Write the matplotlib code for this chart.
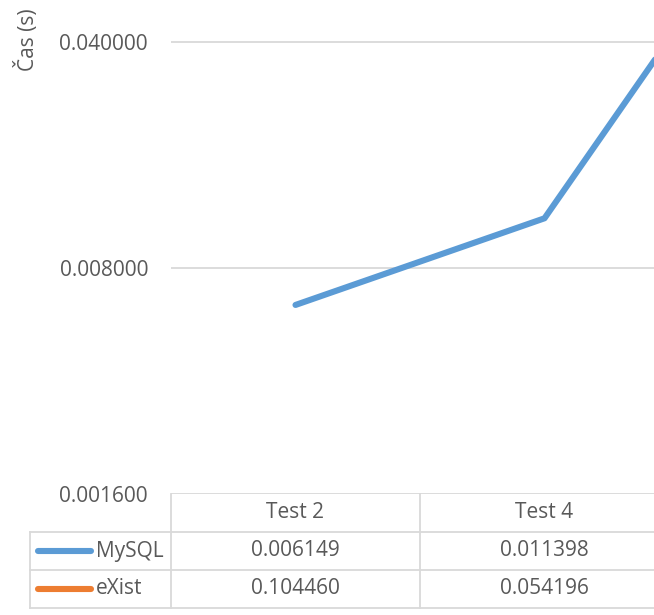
import math
import matplotlib.pyplot as plt
from matplotlib.transforms import blended_transform_factory

# data (the third category is cut off on the right in the reference)
categories = ['Test 2', 'Test 4', 'Test 6']
mysql = [0.006149, 0.011398, 0.1456]
exist = [0.104460, 0.054196, 0.158]
series_names = ['MySQL', 'eXist']
series_colors = ['#5B9BD5', '#ED7D31']
yticks = [0.0016, 0.008, 0.04]

W, H = 654, 615
plt.rcParams['font.family'] = ['Open Sans', 'DejaVu Sans']
txt_color = '#595959'
grid_color = '#D9D9D9'
fs = 15

fig = plt.figure(figsize=(W / 100, H / 100), dpi=100)

# plot area: wider than the picture, like a cropped screenshot
ymin, ymax = 0.0016, 0.0515
px_per_5 = 226  # pixels per factor of 5 on the log axis
left, right, bottom_px = 171, 171 + 249 * len(categories), 494
height_px = math.log(ymax / ymin, 5) * px_per_5
ax = fig.add_axes([left / W, 1 - bottom_px / H, (right - left) / W, height_px / H])

x = range(len(categories))
for vals, name, col in zip([mysql, exist], series_names, series_colors):
    ax.plot(x, vals, color=col, lw=4.4, solid_capstyle='round', label=name)

ax.set_yscale('log', base=5)
ax.set_ylim(ymin, ymax)
ax.set_xlim(-0.5, len(categories) - 0.5)
ax.set_yticks(yticks)
ax.set_yticklabels([f'{v:.6f}' for v in yticks], color=txt_color, fontsize=fs)
ax.yaxis.set_minor_locator(plt.NullLocator())
ax.tick_params(axis='y', length=0, pad=16.5)
ax.set_xticks([])
ax.grid(axis='y', color=grid_color, lw=1.3)
for s in ax.spines.values():
    s.set_visible(False)

fig.text(27 / W, 1 - 40 / H, 'Čas (s)', rotation=90, ha='center', va='center',
         color=txt_color, fontsize=fs)

# data table under the plot
tr = blended_transform_factory(ax.transData, fig.transFigure)
rows_y = [494, 532, 570, 608]
fy = lambda p: 1 - p / H
tab_left = 30
lkw = dict(color=grid_color, lw=1.3, clip_on=False)

# horizontal borders
for yy in rows_y[1:]:
    fig.add_artist(plt.Line2D([tab_left / W, 1.5], [fy(yy)] * 2, transform=fig.transFigure, **lkw))
# vertical borders
fig.add_artist(plt.Line2D([tab_left / W] * 2, [fy(rows_y[1]), fy(rows_y[3])], transform=fig.transFigure, **lkw))
for i in range(len(categories) + 1):
    fig.add_artist(plt.Line2D([i - 0.5] * 2, [fy(rows_y[0]), fy(rows_y[3])], transform=tr, **lkw))

# header and values (columns that fall outside the crop are not drawn)
fig.canvas.draw()
for i, cat in enumerate(categories):
    if tr.transform((i, 0))[0] > W:
        continue
    fig.text(i, fy((rows_y[0] + rows_y[1]) / 2), cat, transform=tr, ha='center', va='center',
             color=txt_color, fontsize=fs)
    for r, vals in enumerate([mysql, exist]):
        fig.text(i, fy((rows_y[r + 1] + rows_y[r + 2]) / 2), f'{vals[i]:.6f}', transform=tr,
                 ha='center', va='center', color=txt_color, fontsize=fs)

# row labels with legend keys
for r, (name, col) in enumerate(zip(series_names, series_colors)):
    yc = fy((rows_y[r + 1] + rows_y[r + 2]) / 2)
    fig.add_artist(plt.Line2D([38 / W, 91 / W], [yc, yc], transform=fig.transFigure,
                              color=col, lw=4.4, solid_capstyle='round'))
    fig.text(96 / W, yc, name, ha='left', va='center', color=txt_color, fontsize=fs)

fig.savefig('out.png', dpi=100)
